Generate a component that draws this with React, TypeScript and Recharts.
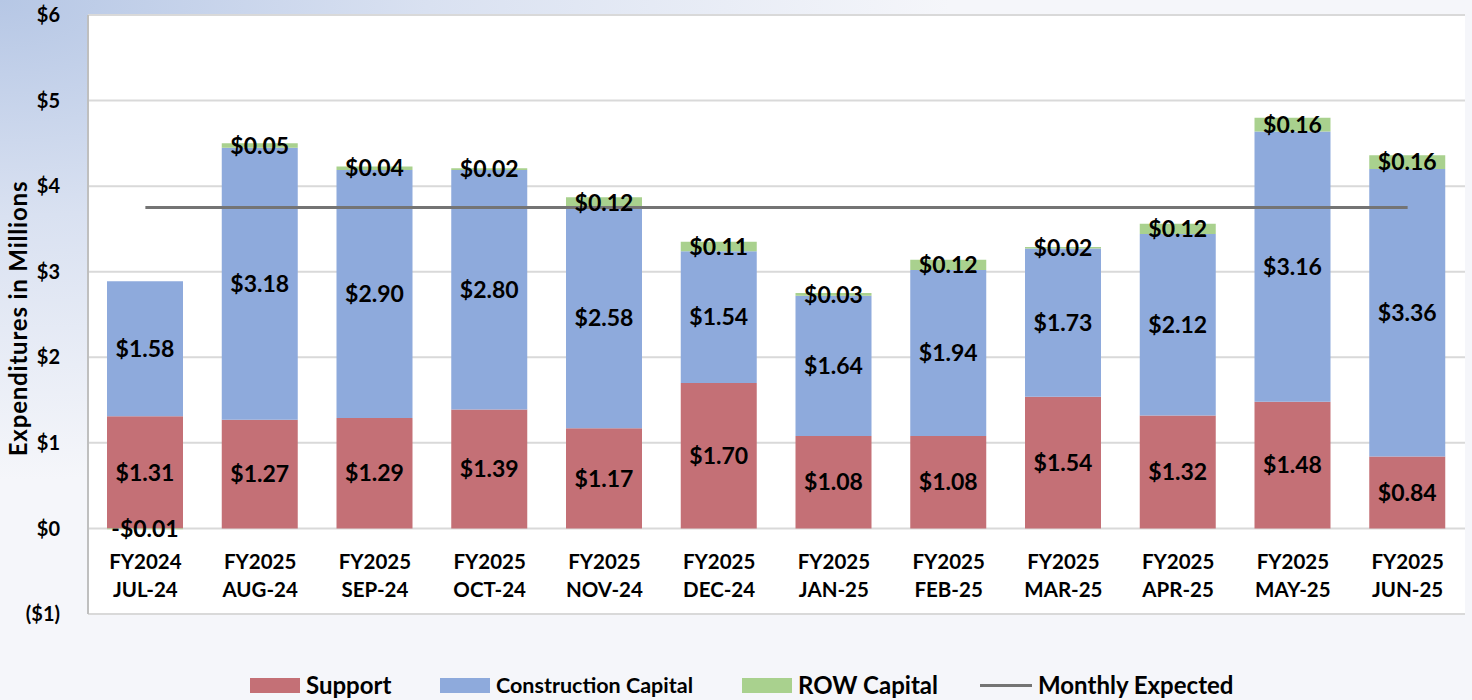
import React from "react";
import {
  ComposedChart,
  Bar,
  Line,
  XAxis,
  YAxis,
  CartesianGrid,
  Legend,
  LabelList,
} from "recharts";

const fiscalYears = [
  "FY2024", "FY2025", "FY2025", "FY2025", "FY2025", "FY2025",
  "FY2025", "FY2025", "FY2025", "FY2025", "FY2025", "FY2025",
];
const months = [
  "JUL-24", "AUG-24", "SEP-24", "OCT-24", "NOV-24", "DEC-24",
  "JAN-25", "FEB-25", "MAR-25", "APR-25", "MAY-25", "JUN-25",
];
const support = [1.31, 1.27, 1.29, 1.39, 1.17, 1.7, 1.08, 1.08, 1.54, 1.32, 1.48, 0.84];
const construction = [1.58, 3.18, 2.9, 2.8, 2.58, 1.54, 1.64, 1.94, 1.73, 2.12, 3.16, 3.36];
const rowCapital = [-0.01, 0.05, 0.04, 0.02, 0.12, 0.11, 0.03, 0.12, 0.02, 0.12, 0.16, 0.16];
const monthlyExpected = [3.75, 3.75, 3.75, 3.75, 3.75, 3.75, 3.75, 3.75, 3.75, 3.75, 3.75, 3.75];
const yTicks = [-1, 0, 1, 2, 3, 4, 5, 6];

const data = months.map((m, i) => ({
  key: i,
  fy: fiscalYears[i],
  month: m,
  support: support[i],
  construction: construction[i],
  row: rowCapital[i],
  expected: monthlyExpected[i],
}));

const FONT = "Lato, 'Open Sans', sans-serif";
const SUPPORT = "#C47076";
const CONSTRUCTION = "#8EAADC";
const ROW = "#A9D18E";
const EXPECTED = "#747474";

const money = (v: any) => {
  const n = Number(v);
  return n < 0 ? `-$${Math.abs(n).toFixed(2)}` : `$${n.toFixed(2)}`;
};

const tickMoney = (v: number) => (v < 0 ? `($${-v})` : `$${v}`);

function CategoryTick(props: any) {
  const { x, y, payload } = props;
  const d = data[payload.value];
  return (
    <text
      x={x}
      textAnchor="middle"
      fontFamily={FONT}
      fontWeight="bold"
      fontSize={20.5}
      fill="#000"
    >
      <tspan x={x} y={y - 53}>{d.fy}</tspan>
      <tspan x={x} y={y - 25}>{d.month}</tspan>
    </text>
  );
}

function LegendContent() {
  const text: React.CSSProperties = {
    position: "absolute",
    top: 0,
    lineHeight: "30px",
    fontFamily: FONT,
    fontWeight: "bold",
    fontSize: 24,
    color: "#000",
    whiteSpace: "nowrap",
  };
  const swatch = (left: number, color: string): React.CSSProperties => ({
    position: "absolute",
    left,
    top: 8,
    width: 50,
    height: 15,
    background: color,
  });
  return (
    <div style={{ position: "relative", width: 1472, height: 30 }}>
      <div style={swatch(250, SUPPORT)} />
      <div style={{ ...text, left: 306 }}>Support</div>
      <div style={swatch(440, CONSTRUCTION)} />
      <div style={{ ...text, left: 496, fontSize: 21.5 }}>Construction Capital</div>
      <div style={swatch(742, ROW)} />
      <div style={{ ...text, left: 798 }}>ROW Capital</div>
      <div
        style={{
          position: "absolute",
          left: 980,
          top: 14,
          width: 52,
          height: 3,
          background: EXPECTED,
        }}
      />
      <div style={{ ...text, left: 1038 }}>Monthly Expected</div>
    </div>
  );
}

const labelStyle = {
  fill: "#000",
  fontFamily: FONT,
  fontWeight: "bold" as const,
  fontSize: 23,
};

export default function App() {
  return (
    <div
      style={{
        position: "absolute",
        left: 0,
        top: 0,
        width: 1472,
        height: 700,
        background:
          "radial-gradient(ellipse 950px 480px at 0 0, #b6c7e5 0%, #d9e1f1 45%, #f5f6fa 100%)",
      }}
    >
      <ComposedChart
        width={1472}
        height={700}
        data={data}
        stackOffset="sign"
        margin={{ top: 15, right: 7, bottom: 0, left: 0 }}
      >
        <CartesianGrid
          vertical={false}
          stroke="#d9d9d9"
          strokeWidth={2}
          fill="#ffffff"
          fillOpacity={1}
        />
        <XAxis
          dataKey="key"
          type="category"
          height={56}
          axisLine={false}
          tickLine={false}
          tick={<CategoryTick />}
          interval={0}
        />
        <YAxis
          width={88}
          domain={[-1, 6]}
          ticks={yTicks}
          allowDataOverflow
          tickFormatter={tickMoney}
          tickLine={false}
          tickSize={0}
          tickMargin={28}
          axisLine={{ stroke: "#bfbfbf", strokeWidth: 2 }}
          tick={{ fill: "#000", fontFamily: FONT, fontWeight: "bold", fontSize: 20 }}
          label={{
            value: "Expenditures in Millions",
            angle: -90,
            position: "center",
            dx: -26,
            dy: 4,
            style: {
              fill: "#000",
              fontFamily: FONT,
              fontWeight: "bold",
              fontSize: 24,
              letterSpacing: 0.8,
              textAnchor: "middle",
            },
          }}
        />
        <Legend
          verticalAlign="bottom"
          height={30}
          content={<LegendContent />}
          wrapperStyle={{ left: 0, bottom: 0, width: 1472 }}
        />
        <Bar dataKey="support" name="Support" stackId="a" fill={SUPPORT} barSize={76} isAnimationActive={false}>
          <LabelList dataKey="support" position="center" formatter={money} style={labelStyle} />
        </Bar>
        <Bar dataKey="construction" name="Construction Capital" stackId="a" fill={CONSTRUCTION} barSize={76} isAnimationActive={false}>
          <LabelList dataKey="construction" position="center" formatter={money} style={labelStyle} />
        </Bar>
        <Bar dataKey="row" name="ROW Capital" stackId="a" fill={ROW} barSize={76} isAnimationActive={false}>
          <LabelList dataKey="row" position="center" formatter={money} style={labelStyle} />
        </Bar>
        <Line
          dataKey="expected"
          name="Monthly Expected"
          type="linear"
          stroke={EXPECTED}
          strokeWidth={3}
          dot={false}
          activeDot={false}
          isAnimationActive={false}
        />
      </ComposedChart>
    </div>
  );
}
